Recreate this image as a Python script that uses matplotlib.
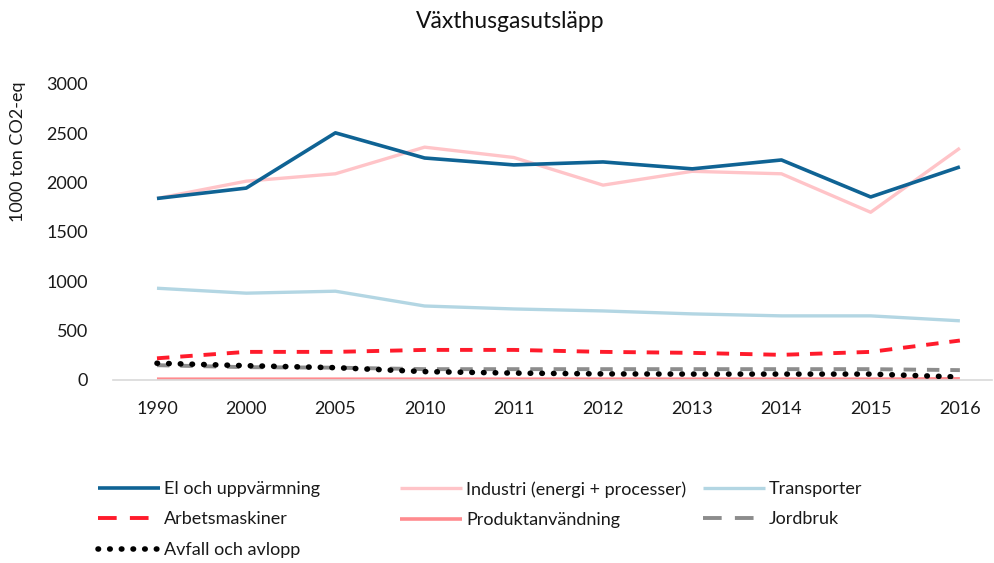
import matplotlib
matplotlib.use("Agg")
import matplotlib.pyplot as plt
from matplotlib.lines import Line2D

plt.rcParams['font.family'] = ['Lato', 'DejaVu Sans']

years = ["1990", "2000", "2005", "2010", "2011", "2012", "2013", "2014", "2015", "2016"]
el = [1840, 1945, 2505, 2250, 2180, 2210, 2140, 2230, 1855, 2160]
industri = [1840, 2015, 2090, 2360, 2255, 1975, 2115, 2090, 1700, 2350]
transporter = [930, 880, 900, 750, 720, 700, 670, 650, 650, 600]
arbetsmaskiner = [220, 285, 285, 305, 305, 285, 275, 255, 285, 400]
produkt = [8, 8, 8, 8, 8, 8, 8, 8, 8, 12]
jordbruk = [150, 130, 125, 110, 110, 110, 110, 110, 110, 100]
avfall = [170, 145, 125, 85, 70, 62, 60, 60, 60, 30]

yticks = [0, 500, 1000, 1500, 2000, 2500, 3000]

fig = plt.figure(figsize=(9.95, 5.63), dpi=100)
W, H = 995, 563
ax = fig.add_axes([113 / W, 1 - 380 / H, (992 - 113) / W, (380 - 84) / H])

x = list(range(len(years)))
series = [
    ("El och uppvärmning", el, dict(color="#0F6394", lw=2.6, ls="-")),
    ("Industri (energi + processer)", industri, dict(color="#FFC4C8", lw=2.4, ls="-")),
    ("Transporter", transporter, dict(color="#B3D6E3", lw=2.4, ls="-")),
    ("Arbetsmaskiner", arbetsmaskiner, dict(color="#FF1B2B", lw=2.8, ls=(0, (3.2, 2.8)))),
    ("Produktanvändning", produkt, dict(color="#FF8B8F", lw=2.6, ls="-")),
    ("Jordbruk", jordbruk, dict(color="#8C8C8C", lw=2.8, ls=(0, (3.2, 2.8)))),
    ("Avfall och avlopp", avfall, dict(color="#000000", lw=4.0, ls=(0, (0.1, 2.0)), dash_capstyle="round")),
]
order_draw = [4, 5, 6, 3, 2, 1, 0]
handles = {}
for i in order_draw:
    name, vals, st = series[i]
    h, = ax.plot(x, vals, label=name, solid_capstyle="butt", **st)
    handles[name] = h

# legend proxies with Excel-like dash lengths
leg_handles = dict(handles)
leg_handles["Arbetsmaskiner"] = Line2D([], [], color="#FF1B2B", lw=2.8, ls=(0, (4.8, 3.4)))
leg_handles["Jordbruk"] = Line2D([], [], color="#8C8C8C", lw=2.8, ls=(0, (4.8, 3.4)))

ax.set_xlim(-0.493, 9.36)
ax.set_ylim(0, 3000)
ax.set_yticks(yticks)
ax.set_yticklabels([str(v) for v in yticks])
ax.set_xticks(x)
ax.set_xticklabels(years)
for s in ["top", "right", "left"]:
    ax.spines[s].set_visible(False)
ax.spines["bottom"].set_color("#D9D9D9")
ax.spines["bottom"].set_linewidth(1.2)
ax.tick_params(axis="both", length=0, labelsize=13, colors="#1a1a1a")
ax.tick_params(axis="y", pad=18)
ax.tick_params(axis="x", pad=15)
ax.patch.set_visible(False)

fig.text(510 / W, 1 - 22 / H, "Växthusgasutsläpp", ha="center", va="center", fontsize=16.5, color="#111111")
fig.text(18 / W, 1 - 152 / H, "1000 ton CO2-eq", rotation=90, ha="center", va="center", fontsize=13, color="#1a1a1a")

cols = [
    (["El och uppvärmning", "Arbetsmaskiner", "Avfall och avlopp"], 98),
    (["Industri (energi + processer)", "Produktanvändning"], 400),
    (["Transporter", "Jordbruk"], 703),
]
for names, xpx in cols:
    leg = fig.legend([leg_handles[n] for n in names], names, loc="upper left",
                     bbox_to_anchor=(xpx / W, 1 - 481 / H), frameon=False,
                     fontsize=13, handlelength=3.43, handletextpad=0.22,
                     labelspacing=0.8, borderpad=0, borderaxespad=0)
    for t in leg.get_texts():
        t.set_color("#1a1a1a")

fig.savefig("out.png", dpi=100)
